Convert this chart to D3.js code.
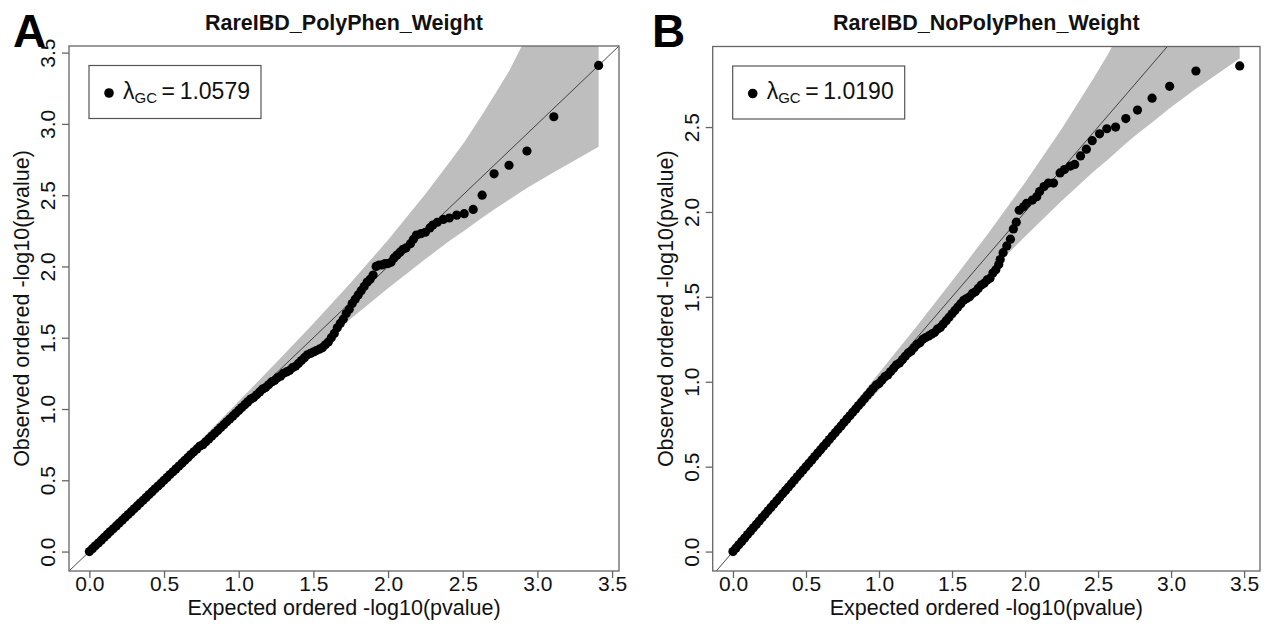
<!DOCTYPE html>
<html>
<head>
<meta charset="utf-8">
<script src="https://cdn.jsdelivr.net/npm/d3@7"></script>
<style>
body { margin: 0; background: #fff; }
text { font-family: "Liberation Sans", Arial, sans-serif; }
</style>
</head>
<body>
<script>
// ---- data ----
var ticksX = [0, 0.5, 1, 1.5, 2, 2.5, 3, 3.5];
var ticksYA = [0, 0.5, 1, 1.5, 2, 2.5, 3, 3.5];
var ticksYB = [0, 0.5, 1, 1.5, 2, 2.5];

var titleA = "RareIBD_PolyPhen_Weight";
var titleB = "RareIBD_NoPolyPhen_Weight";
var lambdaA = "1.0579";
var lambdaB = "1.0190";

// [expected, observed] -log10(p)
var pointsA = [
  [0.00,0.00],[0.02,0.02],[0.04,0.04],[0.06,0.06],[0.08,0.08],[0.10,0.10],[0.12,0.12],[0.14,0.14],
  [0.16,0.16],[0.18,0.18],[0.20,0.20],[0.22,0.22],[0.24,0.24],[0.26,0.26],[0.28,0.28],[0.30,0.30],
  [0.32,0.32],[0.34,0.34],[0.36,0.36],[0.38,0.38],[0.40,0.40],[0.42,0.42],[0.44,0.44],[0.46,0.46],
  [0.48,0.48],[0.50,0.50],[0.52,0.52],[0.54,0.54],[0.56,0.56],[0.58,0.58],[0.60,0.60],[0.62,0.62],
  [0.64,0.64],[0.66,0.66],[0.68,0.68],[0.70,0.70],[0.72,0.72],[0.74,0.74],[0.76,0.75],[0.78,0.77],
  [0.80,0.79],[0.82,0.81],[0.84,0.83],[0.86,0.85],[0.88,0.87],[0.90,0.89],[0.92,0.91],[0.94,0.93],
  [0.96,0.95],[0.98,0.97],[1.00,0.99],[1.02,1.01],[1.04,1.03],[1.06,1.05],[1.08,1.07],[1.10,1.08],
  [1.12,1.10],[1.14,1.12],[1.16,1.14],[1.18,1.15],[1.20,1.17],[1.22,1.19],[1.24,1.20],[1.26,1.22],
  [1.28,1.23],[1.30,1.25],[1.32,1.26],[1.34,1.27],[1.36,1.29],[1.38,1.30],[1.40,1.32],[1.42,1.34],
  [1.44,1.36],[1.46,1.38],[1.48,1.39],[1.50,1.40],[1.52,1.41],[1.54,1.42],[1.56,1.43],[1.58,1.45],
  [1.60,1.47],[1.62,1.50],[1.64,1.53],[1.66,1.57],[1.68,1.60],[1.70,1.63],[1.72,1.67],[1.74,1.70],
  [1.76,1.74],[1.78,1.77],[1.80,1.80],[1.82,1.83],[1.84,1.86],[1.86,1.89],[1.88,1.91],[1.90,1.94],
  [1.92,2.00],[1.94,2.01],[1.96,2.01],[1.98,2.02],[2.00,2.02],[2.02,2.03],[2.04,2.06],[2.06,2.08],
  [2.08,2.10],[2.10,2.12],[2.12,2.13],[2.15,2.16],[2.17,2.19],[2.19,2.22],[2.22,2.23],[2.25,2.24],
  [2.28,2.27],[2.30,2.29],[2.33,2.31],[2.37,2.33],[2.41,2.34],[2.46,2.36],[2.51,2.37],[2.57,2.40],
  [2.63,2.50],[2.71,2.65],[2.81,2.71],[2.93,2.81],[3.11,3.05],[3.41,3.41]
];

var pointsB = [
  [0.00,0.00],[0.02,0.02],[0.04,0.04],[0.06,0.06],[0.08,0.08],[0.10,0.10],[0.12,0.12],[0.14,0.14],
  [0.16,0.16],[0.18,0.18],[0.20,0.20],[0.22,0.22],[0.24,0.24],[0.26,0.26],[0.28,0.28],[0.30,0.30],
  [0.32,0.32],[0.34,0.34],[0.36,0.36],[0.38,0.38],[0.40,0.40],[0.42,0.42],[0.44,0.44],[0.46,0.46],
  [0.48,0.48],[0.50,0.50],[0.52,0.52],[0.54,0.54],[0.56,0.56],[0.58,0.58],[0.60,0.60],[0.62,0.62],
  [0.64,0.64],[0.66,0.66],[0.68,0.68],[0.70,0.70],[0.72,0.72],[0.74,0.74],[0.76,0.76],[0.78,0.78],
  [0.80,0.80],[0.82,0.82],[0.84,0.84],[0.86,0.86],[0.88,0.88],[0.90,0.90],[0.92,0.92],[0.94,0.94],
  [0.96,0.96],[0.98,0.98],[1.00,0.99],[1.02,1.01],[1.04,1.03],[1.06,1.04],[1.08,1.06],[1.10,1.08],
  [1.12,1.10],[1.14,1.11],[1.16,1.13],[1.18,1.15],[1.20,1.17],[1.22,1.18],[1.24,1.20],[1.26,1.22],
  [1.28,1.23],[1.30,1.25],[1.32,1.26],[1.34,1.27],[1.36,1.28],[1.38,1.29],[1.40,1.31],[1.42,1.32],
  [1.44,1.34],[1.46,1.36],[1.48,1.38],[1.50,1.40],[1.52,1.42],[1.54,1.44],[1.56,1.46],[1.58,1.48],
  [1.60,1.49],[1.62,1.50],[1.64,1.52],[1.66,1.53],[1.68,1.55],[1.70,1.57],[1.72,1.58],[1.74,1.60],
  [1.76,1.61],[1.78,1.64],[1.80,1.66],[1.82,1.69],[1.83,1.72],[1.85,1.76],[1.875,1.80],[1.90,1.84],
  [1.92,1.90],[1.94,1.94],[1.96,2.01],[1.99,2.03],[2.01,2.05],[2.05,2.07],[2.08,2.09],[2.10,2.12],
  [2.13,2.15],[2.16,2.17],[2.195,2.17],[2.24,2.23],[2.27,2.25],[2.31,2.27],[2.34,2.28],[2.38,2.33],
  [2.42,2.37],[2.46,2.42],[2.51,2.46],[2.56,2.49],[2.62,2.50],[2.69,2.55],[2.77,2.60],[2.87,2.67],
  [2.99,2.74],[3.17,2.83],[3.47,2.86]
];

// grey 95% band, read at these expected values
var bandXA  = [0, 0.25, 0.5, 0.75, 1.0, 1.25, 1.5, 1.75, 2.0, 2.25, 2.41, 2.51, 2.63, 2.71, 2.81, 2.93, 3.11, 3.41];
var bandUpA = [0, 0.265, 0.525, 0.786, 1.055, 1.324, 1.600, 1.886, 2.186, 2.508, 2.729, 2.872, 3.065, 3.199, 3.370, 3.618, 4.030, 5.000];
var bandLoA = [0, 0.235, 0.475, 0.714, 0.949, 1.182, 1.411, 1.633, 1.847, 2.052, 2.178, 2.251, 2.341, 2.400, 2.467, 2.550, 2.660, 2.840];

var bandXB  = [0, 0.25, 0.5, 0.75, 1.0, 1.25, 1.5, 1.75, 2.0, 2.25, 2.47, 2.57, 2.69, 2.77, 2.87, 2.99, 3.17, 3.47];
var bandUpB = [0, 0.264, 0.528, 0.783, 1.052, 1.318, 1.593, 1.876, 2.173, 2.488, 2.789, 2.932, 3.127, 3.260, 3.433, 3.678, 4.087, 5.070];
var bandLoB = [0, 0.236, 0.472, 0.717, 0.951, 1.185, 1.416, 1.640, 1.856, 2.064, 2.238, 2.311, 2.403, 2.460, 2.527, 2.611, 2.725, 2.903];

// ---- drawing ----
var svg = d3.select("body").append("svg")
  .attr("width", 1277).attr("height", 628);

var fmt = d3.format(".1f");

// R style range: data range padded by 4% on each side
function rDomain(vals) {
  var ext = d3.extent(vals);
  var pad = (ext[1] - ext[0]) * 0.04;
  return [ext[0] - pad, ext[1] + pad];
}

function drawPanel(p) {
  var g = svg.append("g");
  var x = d3.scaleLinear().domain(rDomain(p.points.map(function(d) { return d[0]; }))).range([p.left, p.right]);
  var y = d3.scaleLinear().domain(rDomain(p.points.map(function(d) { return d[1]; }))).range([p.bottom, p.top]);

  g.append("clipPath").attr("id", p.id + "clip")
    .append("rect")
    .attr("x", p.left).attr("y", p.top)
    .attr("width", p.right - p.left).attr("height", p.bottom - p.top);

  var plot = g.append("g").attr("clip-path", "url(#" + p.id + "clip)");

  var band = p.bandX.map(function(v, i) { return {x: v, lo: p.bandLo[i], hi: p.bandUp[i]}; });
  plot.append("path")
    .datum(band)
    .attr("fill", "#bebebe")
    .attr("d", d3.area().x(function(d) { return x(d.x); })
      .y0(function(d) { return y(d.lo); })
      .y1(function(d) { return y(d.hi); }));

  var xd = x.domain();
  plot.append("line")
    .attr("x1", x(xd[0])).attr("y1", y(xd[0]))
    .attr("x2", x(xd[1] + 2)).attr("y2", y(xd[1] + 2))
    .attr("stroke", "#333").attr("stroke-width", 0.9);

  g.append("g").selectAll("circle")
    .data(p.points).enter().append("circle")
    .attr("cx", function(d) { return x(d[0]); })
    .attr("cy", function(d) { return y(d[1]); })
    .attr("r", 4.6)
    .attr("fill", "#000");

  // box
  g.append("rect")
    .attr("x", p.left).attr("y", p.top)
    .attr("width", p.right - p.left).attr("height", p.bottom - p.top)
    .attr("fill", "none").attr("stroke", "#666").attr("stroke-width", 1.3);

  var ax = g.append("g")
    .attr("transform", "translate(0," + p.bottom + ")")
    .call(d3.axisBottom(x).tickValues(ticksX).tickFormat(fmt).tickSize(7));
  ax.select(".domain").remove();
  ax.selectAll(".tick line").attr("stroke", "#666").attr("stroke-width", 1.3);
  ax.selectAll(".tick text").attr("y", 20).attr("dy", null)
    .attr("fill", "#111").attr("font-size", 21)
    .style("font-family", "'Liberation Sans', Arial, sans-serif");

  var ay = g.append("g")
    .attr("transform", "translate(" + p.left + ",0)")
    .call(d3.axisLeft(y).tickValues(p.ticksY).tickFormat(fmt).tickSize(7));
  ay.select(".domain").remove();
  ay.selectAll(".tick line").attr("stroke", "#666").attr("stroke-width", 1.3);
  ay.selectAll(".tick text")
    .attr("x", null).attr("dy", null)
    .attr("text-anchor", "middle")
    .attr("transform", "translate(-14,0) rotate(-90)")
    .attr("fill", "#111").attr("font-size", 21)
    .style("font-family", "'Liberation Sans', Arial, sans-serif");

  var cx = (p.left + p.right) / 2, cy = (p.top + p.bottom) / 2;

  g.append("text").text(p.title)
    .attr("x", cx).attr("y", 30)
    .attr("text-anchor", "middle")
    .attr("font-weight", "bold").attr("font-size", 21.5).attr("fill", "#111");

  g.append("text").text(p.letter)
    .attr("x", p.letterX).attr("y", 47)
    .attr("font-weight", "bold").attr("font-size", 46).attr("fill", "#000");

  g.append("text").text("Expected ordered -log10(pvalue)")
    .attr("x", cx).attr("y", 615)
    .attr("text-anchor", "middle").attr("font-size", 21.5).attr("fill", "#111");

  g.append("text").text("Observed ordered -log10(pvalue)")
    .attr("transform", "translate(" + (p.left - 40) + "," + cy + ") rotate(-90)")
    .attr("text-anchor", "middle").attr("font-size", 21.5).attr("fill", "#111");

  // legend
  var lx = p.left + 20, ly = p.top + 19.5;
  var leg = g.append("g");
  var box = leg.append("rect")
    .attr("x", lx).attr("y", ly).attr("height", 53)
    .attr("fill", "#fff").attr("stroke", "#555").attr("stroke-width", 1.2);
  leg.append("circle")
    .attr("cx", lx + 20).attr("cy", ly + 27.5).attr("r", 4.8).attr("fill", "#000");
  var lt = leg.append("text")
    .attr("x", lx + 34).attr("y", ly + 33)
    .attr("font-size", 23).attr("fill", "#111");
  lt.append("tspan").text("\u03bb");
  lt.append("tspan").text("GC").attr("font-size", 15).attr("dy", 4);
  lt.append("tspan").text("\u2009=\u20091.0579".replace("1.0579", p.lambda)).attr("dy", -4);
  box.attr("width", 34 + lt.node().getComputedTextLength() + 11);
}

drawPanel({
  id: "a", letter: "A", letterX: 13, title: titleA, lambda: lambdaA,
  left: 69, right: 619, top: 46, bottom: 571,
  points: pointsA, ticksY: ticksYA,
  bandX: bandXA, bandUp: bandUpA, bandLo: bandLoA
});

drawPanel({
  id: "b", letter: "B", letterX: 652, title: titleB, lambda: lambdaB,
  left: 712.7, right: 1260, top: 46.5, bottom: 571,
  points: pointsB, ticksY: ticksYB,
  bandX: bandXB, bandUp: bandUpB, bandLo: bandLoB
});
</script>
</body>
</html>
